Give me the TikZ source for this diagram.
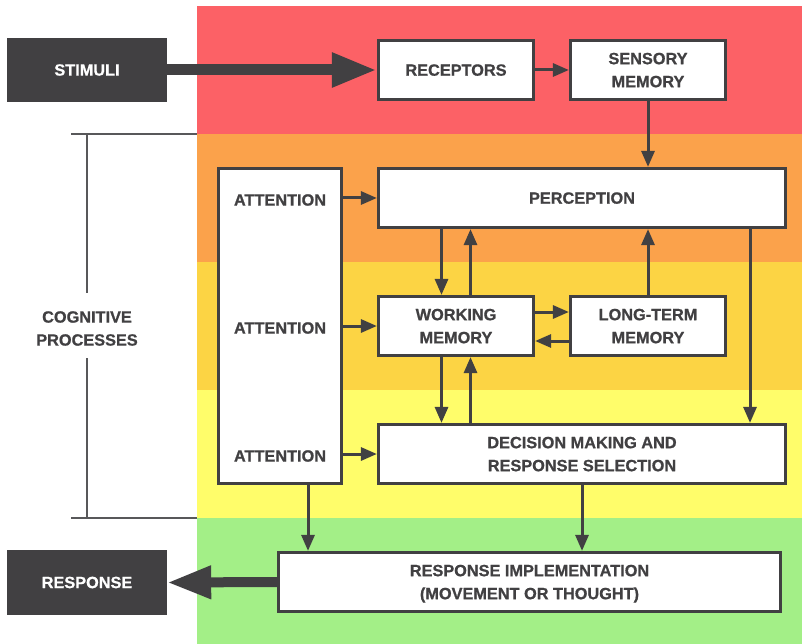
\documentclass[tikz,border=0pt]{standalone}
\usepackage{fontspec}
\setmainfont{Liberation Sans}[BoldFeatures={FakeBold=0.8}]
\usetikzlibrary{arrows.meta}
\definecolor{dk}{HTML}{414042}
\definecolor{bred}{HTML}{FC6166}
\definecolor{bora}{HTML}{FBA24B}
\definecolor{byor}{HTML}{FCD444}
\definecolor{byel}{HTML}{FFFD6A}
\definecolor{bgrn}{HTML}{A3EF87}
\definecolor{brk}{HTML}{58585A}
\newcommand{\dfont}{\fontsize{16.3}{23}\selectfont\bfseries}
\tikzset{
  box/.style={draw=dk, line width=3.2pt, fill=white, inner sep=0pt, align=center,
    font=\dfont, text=dk, text depth=0pt},
  darkbox/.style={fill=dk, inner sep=0pt, align=center, font=\dfont, text=white},
  lbl/.style={inner sep=0pt, align=center, font=\dfont, text=dk},
  arr/.style={draw=dk, line width=3pt, -{Triangle[length=16pt,width=13pt]}},
  fat/.style={draw=dk, line width=11pt, -{Triangle[length=45pt,width=32pt]}},
  fatb/.style={draw=dk, line width=10pt, -{Triangle[length=44pt,width=31pt]}},
  brack/.style={draw=brk, line width=1.4pt}
}
\begin{document}
\begin{tikzpicture}[x=1pt,y=-1pt]
\useasboundingbox (0,0) rectangle (802,644);
% bands
\fill[bred] (197,6) rectangle (802,134);
\fill[bora] (197,134) rectangle (802,262);
\fill[byor] (197,262) rectangle (802,390);
\fill[byel] (197,390) rectangle (802,518);
\fill[bgrn] (197,518) rectangle (802,644);
% bracket
\coordinate (bt) at (87,134);
\coordinate (bb) at (87,518);
\coordinate (btl) at (71,134);
\coordinate (btr) at (197,134);
\coordinate (bbl) at (71,518);
\coordinate (bbr) at (197,518);
\coordinate (bgt) at (87,293);
\coordinate (bgb) at (87,358);
\draw[brack] (btl) -- (btr);
\draw[brack] (bbl) -- (bbr);
\draw[brack] (bt) -- (bgt);
\draw[brack] (bgb) -- (bb);
\node[lbl] (cog) at (87,328.5) {COGNITIVE\\PROCESSES};
% nodes
\node[darkbox, minimum width=160pt, minimum height=64pt] (stim) at (87,70) {STIMULI};
\node[darkbox, minimum width=160pt, minimum height=65pt] (resp) at (87,582.5) {RESPONSE};
\node[box, minimum width=155pt, minimum height=59pt] (rec) at (456,70) {RECEPTORS};
\node[box, minimum width=155pt, minimum height=59pt] (sen) at (648,70) {SENSORY\\MEMORY};
\node[box, minimum width=407pt, minimum height=59pt] (per) at (582,198) {PERCEPTION};
\node[box, minimum width=123pt, minimum height=315pt] (att) at (280,326) {};
\node[lbl] (a1) at (280,200) {ATTENTION};
\node[lbl] (a2) at (280,328) {ATTENTION};
\node[lbl] (a3) at (280,456) {ATTENTION};
\node[box, minimum width=155pt, minimum height=59pt] (wm) at (456,326) {WORKING\\MEMORY};
\node[box, minimum width=155pt, minimum height=59pt] (ltm) at (648,326) {LONG-TERM\\MEMORY};
\node[box, minimum width=407pt, minimum height=59pt] (dec) at (582,454) {DECISION MAKING AND\\RESPONSE SELECTION};
\node[box, minimum width=502pt, minimum height=59pt] (ri) at (529.5,582) {RESPONSE IMPLEMENTATION\\(MOVEMENT OR THOUGHT)};
% coordinates for vertical connectors
\coordinate (xa) at (441.5,0);
\coordinate (xb) at (470.5,0);
\coordinate (xc) at (750,0);
\coordinate (xd) at (308,0);
\coordinate (ya) at (0,312);
\coordinate (yb) at (0,341);
% connectors
\draw[fat] (stim.east) -- (rec.west);
\draw[fatb] (ri.west) -- (resp.east);
\draw[arr] (rec.east) -- (sen.west);
\draw[arr] (sen.south) -- (sen.south |- per.north);
\draw[arr] (att.east |- per.west) -- (per.west);
\draw[arr] (att.east |- wm.west) -- (wm.west);
\draw[arr] (att.east |- dec.west) -- (dec.west);
\draw[arr] (per.south -| xa) -- (wm.north -| xa);
\draw[arr] (wm.north -| xb) -- (per.south -| xb);
\draw[arr] (ltm.north) -- (ltm.north |- per.south);
\draw[arr] (wm.east |- ya) -- (ltm.west |- ya);
\draw[arr] (ltm.west |- yb) -- (wm.east |- yb);
\draw[arr] (wm.south -| xa) -- (dec.north -| xa);
\draw[arr] (dec.north -| xb) -- (wm.south -| xb);
\draw[arr] (per.south -| xc) -- (dec.north -| xc);
\draw[arr] (att.south -| xd) -- (ri.north -| xd);
\draw[arr] (dec.south) -- (dec.south |- ri.north);
\end{tikzpicture}
\end{document}
